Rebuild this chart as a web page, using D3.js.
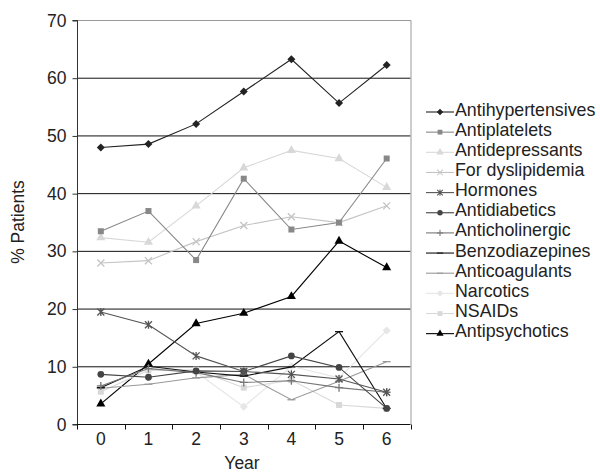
<!DOCTYPE html>
<html lang="en">
<head>
<meta charset="utf-8">
<script src="https://cdn.jsdelivr.net/npm/d3@7"></script>
<style>
  body, html { margin: 0; background: #fff; }
  text { font-family: 'Liberation Sans', Arial, sans-serif; fill: #222; }
  .tick text { font-size: 17.5px; }
  .legend text { font-size: 17.8px; }
</style>
</head>
<body>
<script>
var w = 600, h = 472;

var years = [0, 1, 2, 3, 4, 5, 6];
var yTicks = [0, 10, 20, 30, 40, 50, 60, 70];

var names = ["Antihypertensives", "Antiplatelets", "Antidepressants", "For dyslipidemia",
  "Hormones", "Antidiabetics", "Anticholinergic", "Benzodiazepines", "Anticoagulants",
  "Narcotics", "NSAIDs", "Antipsychotics"];

var antihypertensives = [47.9, 48.5, 52.0, 57.6, 63.2, 55.6, 62.2];
var antiplatelets     = [33.4, 36.9, 28.4, 42.5, 33.7, 34.9, 46.0];
var antidepressants   = [32.3, 31.5, 37.8, 44.4, 47.4, 46.0, 41.0];
var dyslipidemia      = [27.9, 28.3, 31.6, 34.4, 35.9, 34.9, 37.8];
var hormones          = [19.4, 17.2, 11.8, 9.1, 8.6, 7.8, 5.5];
var antidiabetics     = [8.6, 8.1, 9.2, 9.1, 11.8, 9.8, 2.7];
var anticholinergic   = [6.6, 9.6, 8.9, 7.2, 7.5, 6.3, 5.5];
var benzodiazepines   = [6.3, 10.0, 9.0, 8.3, 9.9, 16.0, 2.7];
var anticoagulants    = [6.2, 6.9, 8.0, 8.6, 4.2, 7.4, 10.8];
var narcotics         = [6.4, 9.6, 9.0, 3.0, 10.0, 8.0, 16.2];
var nsaids            = [5.6, 9.3, 9.4, 6.3, 7.6, 3.3, 2.7];
var antipsychotics    = [3.5, 10.4, 17.4, 19.2, 22.1, 31.7, 27.1];

var values = [antihypertensives, antiplatelets, antidepressants, dyslipidemia, hormones,
  antidiabetics, anticholinergic, benzodiazepines, anticoagulants, narcotics, nsaids, antipsychotics];

var colors = ["#222", "#888", "#d8d8d8", "#c4c4c4", "#555", "#444", "#777", "#111",
  "#999", "#e6e6e6", "#d8d8d8", "#000"];
var markers = ["diamond", "square", "triangle", "x", "asterisk", "circle", "plus",
  "dash", "dash", "diamond", "square", "triangle"];

var svg = d3.select("body").append("svg").attr("width", w).attr("height", h);

var x = d3.scaleLinear().domain([-0.5, 6.5]).range([77, 410.5]);
var y = d3.scaleLinear().domain([0, 70]).range([424, 20]);

// grid lines
svg.selectAll(".grid").data(yTicks.slice(1, -1)).enter().append("line")
  .attr("x1", x(-0.5)).attr("x2", x(6.5))
  .attr("y1", function(d) { return y(d) + 0.5; })
  .attr("y2", function(d) { return y(d) + 0.5; })
  .attr("stroke", "#111").attr("stroke-width", 1);

// frame top and right
svg.append("path")
  .attr("d", "M" + x(-0.5) + "," + (y(70) + 0.5) + "H" + (x(6.5) + 0.5) + "V" + y(0))
  .attr("fill", "none").attr("stroke", "#999");

// y axis
var yAxis = svg.append("g").attr("transform", "translate(" + (x(-0.5) + 0.5) + ",0.5)")
  .call(d3.axisLeft(y).tickValues(yTicks).tickSize(5).tickPadding(6));
yAxis.selectAll("line, path").attr("stroke", "#333");
yAxis.select(".domain").attr("d", "M-5," + y(70) + "H0V" + y(0) + "H-5");

// x axis
var xAxis = svg.append("g").attr("transform", "translate(0," + (y(0) + 0.5) + ")");
xAxis.append("line").attr("x1", x(-0.5)).attr("x2", x(6.5)).attr("stroke", "#111");
xAxis.selectAll(".xt").data(d3.range(-0.5, 7, 1)).enter().append("line")
  .attr("x1", function(d) { return Math.round(x(d)) + 0.5; })
  .attr("x2", function(d) { return Math.round(x(d)) + 0.5; })
  .attr("y1", 0).attr("y2", 5).attr("stroke", "#111");
xAxis.selectAll(".xl").data(years).enter().append("text")
  .attr("x", function(d) { return x(d); })
  .attr("y", 20).attr("text-anchor", "middle").style("font-size", "17.5px")
  .text(function(d) { return d; });

svg.append("text").attr("x", 242).attr("y", 469).attr("text-anchor", "middle")
  .style("font-size", "17.5px").text("Year");
svg.append("text").attr("transform", "translate(24," + y(35) + ") rotate(-90)")
  .attr("text-anchor", "middle").style("font-size", "17.5px").text("% Patients");

function markerPath(type) {
  switch (type) {
    case "diamond": return "M0,-4L4,0L0,4L-4,0Z";
    case "square": return d3.symbol(d3.symbolSquare, 36)();
    case "triangle": return d3.symbol(d3.symbolTriangle, 36)();
    case "circle": return d3.symbol(d3.symbolCircle, 36)();
    case "x": return "M-3.5,-3.5L3.5,3.5M-3.5,3.5L3.5,-3.5";
    case "asterisk": return "M-3.5,-3.5L3.5,3.5M-3.5,3.5L3.5,-3.5M0,-4V4";
    case "plus": return "M-4,0H4M0,-4V4";
    case "dash": return "M-4,0H4";
  }
}
function isStroke(type) {
  return type === "x" || type === "asterisk" || type === "plus" || type === "dash";
}

var line = d3.line().x(function(d, i) { return x(years[i]); }).y(function(d) { return y(d); });

// draw series, in reverse order so darker ones sit on top
var order = d3.range(names.length).reverse();
order.forEach(function(k) {
  var g = svg.append("g");
  g.append("path").datum(values[k]).attr("d", line)
    .attr("fill", "none").attr("stroke", colors[k]).attr("stroke-width", 1.1);
  g.selectAll("path.m").data(values[k]).enter().append("path").attr("class", "m")
    .attr("transform", function(d, i) { return "translate(" + x(years[i]) + "," + y(d) + ")"; })
    .attr("d", markerPath(markers[k]))
    .attr("fill", isStroke(markers[k]) ? "none" : colors[k])
    .attr("stroke", isStroke(markers[k]) ? colors[k] : "none")
    .attr("stroke-width", 1.3);
});

// legend
var legend = svg.append("g").attr("class", "legend");
names.forEach(function(n, k) {
  var ly = 112 + k * 20.15;
  var g = legend.append("g").attr("transform", "translate(0," + ly + ")");
  g.append("line").attr("x1", 426).attr("x2", 454).attr("stroke", colors[k]).attr("stroke-width", 1.1);
  g.append("path").attr("transform", "translate(440,0) scale(0.8)")
    .attr("d", markerPath(markers[k]))
    .attr("fill", isStroke(markers[k]) ? "none" : colors[k])
    .attr("stroke", isStroke(markers[k]) ? colors[k] : "none")
    .attr("stroke-width", 1.3);
  g.append("text").attr("x", 455).attr("y", 3.5).text(n);
});
</script>
</body>
</html>
